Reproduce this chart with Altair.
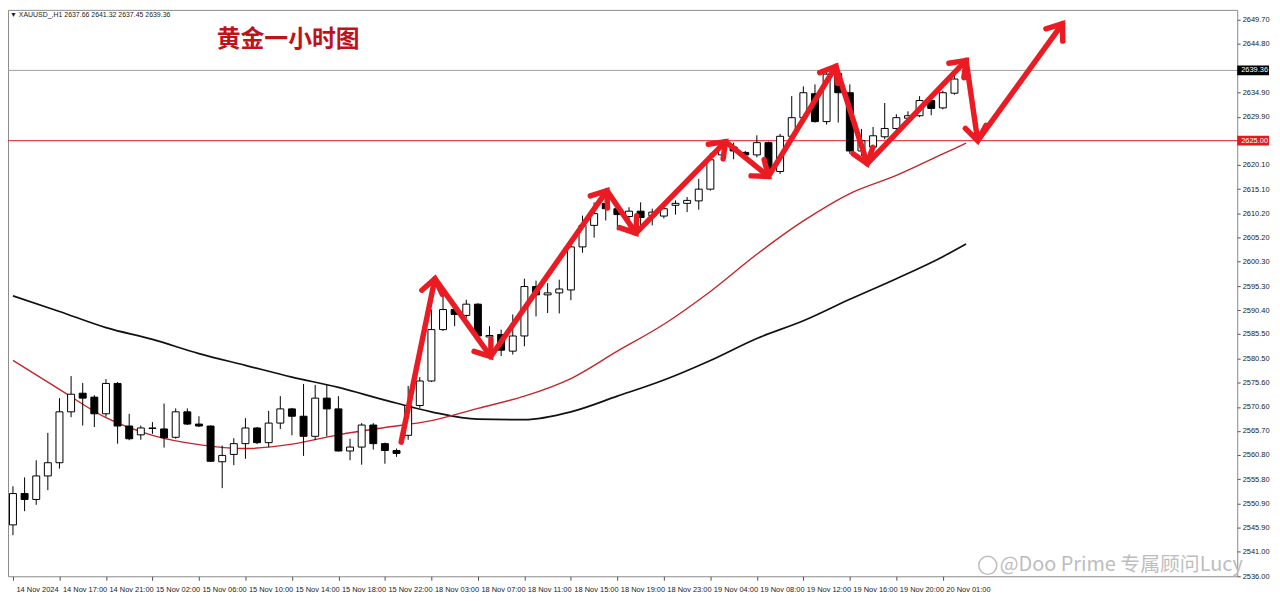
import math
import altair as alt
import pandas as pd

# ---------------- data ----------------
opens = [2546.5, 2552.9, 2551.7, 2556.5, 2559.2, 2569.6, 2573.4, 2572.6, 2569.2, 2575.4,
         2566.7, 2564.9, 2566.3, 2566.1, 2564.4, 2569.6, 2567.1, 2566.7, 2559.4, 2560.9,
         2563.1, 2566.3, 2563.3, 2567.3, 2570.2, 2568.7, 2564.6, 2572.4, 2570.2, 2561.6,
         2562.4, 2566.9, 2563.1, 2561.7, 2564.8, 2570.9, 2575.9, 2586.4, 2590.5, 2589.3,
         2591.6, 2584.9, 2585.4, 2582.0, 2585.1, 2595.2, 2593.5, 2593.9, 2594.5, 2603.3,
         2607.7, 2612.2, 2611.1, 2609.5, 2610.6, 2609.7, 2609.6, 2611.8, 2612.2, 2612.7,
         2615.1, 2622.1, 2623.7, 2622.6, 2622.1, 2624.6, 2618.7, 2625.9, 2629.7, 2634.6,
         2628.9, 2638.7, 2634.8, 2622.9, 2623.7, 2625.8, 2627.5, 2629.6, 2630.1, 2633.2,
         2631.7, 2634.7, 2637.66]
highs = [2554.4, 2556.2, 2559.7, 2565.3, 2572.4, 2576.9, 2575.5, 2573.0, 2576.3, 2575.7,
         2569.2, 2566.8, 2567.5, 2571.3, 2570.3, 2570.3, 2568.7, 2566.8, 2562.7, 2564.2,
         2568.3, 2566.5, 2569.8, 2572.8, 2570.4, 2575.3, 2575.1, 2575.1, 2572.8, 2564.1,
         2567.3, 2567.3, 2563.3, 2562.1, 2574.9, 2576.7, 2590.5, 2593.5, 2591.1, 2592.5,
         2591.8, 2587.1, 2586.4, 2589.5, 2596.8, 2596.4, 2595.9, 2596.6, 2604.1, 2609.7,
         2612.4, 2614.2, 2612.2, 2611.4, 2612.4, 2611.1, 2611.8, 2612.8, 2613.5, 2617.2,
         2622.5, 2624.6, 2624.6, 2622.9, 2626.1, 2624.8, 2626.4, 2634.1, 2636.1, 2636.5,
         2639.6, 2639.5, 2636.5, 2627.4, 2627.8, 2632.7, 2630.4, 2631.0, 2634.1, 2633.3,
         2635.2, 2639.2, 2641.32]
lows = [2544.4, 2549.3, 2550.6, 2553.6, 2558.0, 2568.5, 2566.8, 2566.5, 2568.6, 2563.1,
        2563.8, 2563.9, 2565.1, 2562.3, 2564.1, 2566.9, 2566.5, 2559.4, 2554.0, 2558.7,
        2560.0, 2563.0, 2562.4, 2566.1, 2564.8, 2560.6, 2563.8, 2564.6, 2561.5, 2559.7,
        2558.8, 2561.9, 2559.0, 2560.4, 2563.9, 2570.4, 2575.7, 2586.1, 2587.1, 2588.8,
        2584.7, 2580.3, 2581.0, 2581.3, 2583.0, 2589.1, 2589.8, 2589.7, 2592.4, 2602.1,
        2605.2, 2608.7, 2606.7, 2607.0, 2607.7, 2607.7, 2609.1, 2609.9, 2610.4, 2610.9,
        2614.8, 2620.9, 2621.2, 2621.7, 2621.6, 2618.5, 2618.2, 2625.3, 2629.0, 2628.7,
        2628.3, 2628.7, 2622.3, 2621.9, 2622.6, 2625.3, 2627.2, 2628.7, 2629.8, 2630.2,
        2631.4, 2634.4, 2637.45]
closes = [2552.9, 2551.7, 2556.5, 2559.2, 2569.6, 2573.2, 2572.4, 2569.2, 2575.4, 2566.7,
          2564.1, 2566.3, 2566.2, 2564.3, 2569.6, 2567.1, 2566.7, 2559.5, 2560.7, 2563.1,
          2566.3, 2563.3, 2567.3, 2570.2, 2568.7, 2564.6, 2572.4, 2570.2, 2561.6, 2562.4,
          2566.9, 2563.1, 2561.7, 2561.1, 2570.9, 2575.9, 2586.4, 2590.5, 2589.5, 2591.6,
          2585.1, 2585.2, 2582.2, 2585.1, 2595.2, 2593.5, 2593.9, 2594.7, 2603.3, 2607.7,
          2610.1, 2611.1, 2609.9, 2610.6, 2609.3, 2610.4, 2611.1, 2612.2, 2612.8, 2615.1,
          2621.1, 2623.6, 2622.9, 2622.1, 2624.6, 2619.2, 2625.9, 2629.7, 2634.8, 2628.9,
          2638.6, 2634.8, 2622.9, 2625.0, 2626.0, 2627.5, 2629.7, 2630.1, 2633.2, 2631.6,
          2634.8, 2637.6, 2639.36]

ma_idx = [0, 4, 8, 12, 16, 20, 24, 28, 32, 36, 40, 44, 48, 52, 56, 60, 64, 68, 72, 76, 80, 82]
ma_red = [2580.1, 2574.2, 2568.4, 2564.8, 2562.9, 2562.1, 2563.0, 2564.9, 2566.4, 2567.8,
          2570.3, 2572.8, 2576.4, 2582.0, 2587.5, 2594.2, 2601.8, 2608.6, 2614.2, 2617.9,
          2622.3, 2624.5]
ma_black = [2593.3, 2590.1, 2586.8, 2584.4, 2581.5, 2579.1, 2576.7, 2574.6, 2572.0, 2569.6,
            2568.1, 2568.0, 2569.6, 2572.8, 2576.1, 2580.1, 2584.6, 2588.2, 2592.6, 2596.8,
            2601.3, 2603.9]

x_tick_idx = list(range(0, 81, 4))
x_tick_labels = ["14 Nov 2024", "14 Nov 17:00", "14 Nov 21:00", "15 Nov 02:00", "15 Nov 06:00",
                 "15 Nov 10:00", "15 Nov 14:00", "15 Nov 18:00", "15 Nov 22:00", "18 Nov 03:00",
                 "18 Nov 07:00", "18 Nov 11:00", "18 Nov 15:00", "18 Nov 19:00", "18 Nov 23:00",
                 "19 Nov 04:00", "19 Nov 08:00", "19 Nov 12:00", "19 Nov 16:00", "19 Nov 20:00",
                 "20 Nov 01:00"]
y_tick_values = [2649.70, 2644.80, 2634.90, 2629.90, 2620.10, 2615.10, 2610.20, 2605.20,
                 2600.30, 2595.30, 2590.40, 2585.50, 2580.50, 2575.60, 2570.60, 2565.70,
                 2560.80, 2555.80, 2550.90, 2545.90, 2541.00, 2536.00]

level_price = 2625.00
last_price = 2639.36
tag_prices = [2639.36, 2625.00]
tag_labels = ["2639.36", "2625.00"]
tag_fills = ["#000000", "#e3191f"]

arrow_idx = [33.4, 36.3, 41.1, 51.1, 53.6, 61.3, 65.0, 70.8, 73.5, 82.0, 83.0, 90.3]
arrow_price = [2563.4, 2596.8, 2580.9, 2614.8, 2606.1, 2624.8, 2617.7, 2640.2, 2620.3,
               2641.4, 2625.0, 2648.9]

title_text = "黄金一小时图"
header_text = "▼ XAUUSD_,H1  2637.66 2641.32 2637.45 2639.36"
watermark_text = "@Doo Prime 专属顾问Lucy"

# ---------------- layout ----------------
W, H = 1237, 570
X_DOMAIN = [0.0, 104.9]
Y_DOMAIN = [2536.0, 2651.73]
FONT = "Liberation Sans"
ARROW_RED = "#ea1b22"

xs = alt.Scale(domain=X_DOMAIN, nice=False, zero=False)
ys = alt.Scale(domain=Y_DOMAIN, nice=False, zero=False)

candles = pd.DataFrame({"i": list(range(len(opens))), "open": opens, "high": highs,
                        "low": lows, "close": closes})
candles["dir"] = ["up" if c >= o else "down" for o, c in zip(opens, closes)]

x_expr = "[" + ",".join("'%s'" % s for s in x_tick_labels) + "][round(datum.value/4)]"
x_axis = alt.Axis(values=x_tick_idx, labelExpr=x_expr, grid=False, domain=False,
                  tickSize=4, tickColor="#555555", labelAlign="left", labelBaseline="top",
                  labelOffset=3, labelPadding=5, labelFont=FONT, labelFontSize=7.5,
                  labelColor="#222222", labelOverlap=False, labelFlush=False,
                  labelBound=False, title=None)
y_axis = alt.Axis(orient="right", values=y_tick_values, format=".2f", grid=False,
                  domain=False, tickSize=3, tickColor="#555555", labelPadding=2,
                  labelFont=FONT, labelFontSize=7.5, labelColor="#222222",
                  labelOverlap=False, labelFlush=False, labelBound=False, title=None)

XI = alt.X("i:Q", scale=xs, axis=x_axis)


def Yf(field):
    return alt.Y(field, scale=ys, axis=y_axis)


wicks = alt.Chart(candles).mark_rule(color="black", strokeWidth=1, clip=True).encode(
    x=XI, y=Yf("low:Q"), y2="high:Q")
bodies = alt.Chart(candles).mark_bar(width=7, stroke="black", strokeWidth=1, clip=True,
                                     opacity=1).encode(
    x=XI,
    y=Yf("open:Q"),
    y2="close:Q",
    fill=alt.Fill("dir:N", scale=alt.Scale(domain=["up", "down"], range=["white", "black"]),
                  legend=None),
)

ma_df = pd.DataFrame({"i": ma_idx, "red": ma_red, "black": ma_black})
red_ma = alt.Chart(ma_df).mark_line(color="#c5252b", strokeWidth=1.4,
                                    interpolate="monotone", clip=True).encode(
    x=XI, y=Yf("red:Q"))
black_ma = alt.Chart(ma_df).mark_line(color="#111111", strokeWidth=1.7,
                                      interpolate="monotone", clip=True).encode(
    x=XI, y=Yf("black:Q"))

level_rule = alt.Chart(pd.DataFrame({"v": [level_price]})).mark_rule(
    color="#e3191f", strokeWidth=1).encode(y=Yf("v:Q"))
last_rule = alt.Chart(pd.DataFrame({"v": [last_price]})).mark_rule(
    color="#a0a0a0", strokeWidth=1).encode(y=Yf("v:Q"))

tags = pd.DataFrame({"p": tag_prices, "label": tag_labels, "fill": tag_fills})
tag_box = alt.Chart(tags).mark_point(shape="M-1,-0.31H1V0.31H-1Z", filled=True, size=1024,
                                     opacity=1, strokeWidth=0).encode(
    x=alt.value(W + 16), y=Yf("p:Q"), color=alt.Color("fill:N", scale=None))
tag_text = alt.Chart(tags).mark_text(align="left", baseline="middle", color="white",
                                     font=FONT, fontSize=7.5).encode(
    x=alt.value(W + 4), y=Yf("p:Q"), text="label:N")

# arrow heads: direction of each segment in screen pixels
sx = W / (X_DOMAIN[1] - X_DOMAIN[0])
sy = H / (Y_DOMAIN[1] - Y_DOMAIN[0])
angles = [0.0]
for k in range(1, len(arrow_idx)):
    dx = (arrow_idx[k] - arrow_idx[k - 1]) * sx
    dys = -(arrow_price[k] - arrow_price[k - 1]) * sy
    angles.append(math.degrees(math.atan2(dx, -dys)) % 360)
arrows = pd.DataFrame({"k": list(range(len(arrow_idx))), "i": arrow_idx, "p": arrow_price,
                       "ang": angles})
arrow_line = alt.Chart(arrows).mark_line(color=ARROW_RED, strokeWidth=5.5, strokeCap="round",
                                         strokeJoin="round").encode(
    x=XI, y=Yf("p:Q"), order="k:Q")
arrow_heads = alt.Chart(arrows[arrows["k"] > 0]).mark_point(
    shape="M-0.75,1L0,0L0.75,1", filled=False, size=784, strokeWidth=5.5, opacity=1,
    color=ARROW_RED, strokeCap="round", strokeJoin="miter").encode(
    x=XI, y=Yf("p:Q"), angle=alt.Angle("ang:Q", scale=None))

title = alt.Chart(pd.DataFrame({"t": [title_text]})).mark_text(
    align="left", baseline="middle", font="Noto Sans CJK SC", fontSize=24, fontWeight="bold",
    color="#bf131c").encode(x=alt.value(210), y=alt.value(30), text="t:N")
header = alt.Chart(pd.DataFrame({"t": [header_text]})).mark_text(
    align="left", baseline="middle", font=FONT, fontSize=7, color="#222222").encode(
    x=alt.value(2), y=alt.value(5), text="t:N")
wm_logo = alt.Chart(pd.DataFrame({"t": [0]})).mark_point(
    shape="circle", filled=False, size=330, strokeWidth=1.5, color="#bdbdbd", opacity=1).encode(
    x=alt.value(986), y=alt.value(559))
watermark = alt.Chart(pd.DataFrame({"t": [watermark_text]})).mark_text(
    align="left", baseline="middle", font="Noto Sans CJK SC", fontSize=20, color="#bdbdbd").encode(
    x=alt.value(998), y=alt.value(559), text="t:N")

chart = alt.layer(
    level_rule, last_rule, black_ma, red_ma, wicks, bodies,
    arrow_line, arrow_heads, tag_box, tag_text, title, header, wm_logo, watermark,
).properties(
    width=W, height=H, autosize=alt.AutoSizeParams(type="none"),
    padding={"left": 0, "top": 0, "right": 35, "bottom": 23},
    background="white",
).configure_view(stroke="#8a8a8a", strokeWidth=1).configure_axis(labelOverlap=False)

chart.save("out.html", embed_options={"renderer": "svg", "actions": False})
